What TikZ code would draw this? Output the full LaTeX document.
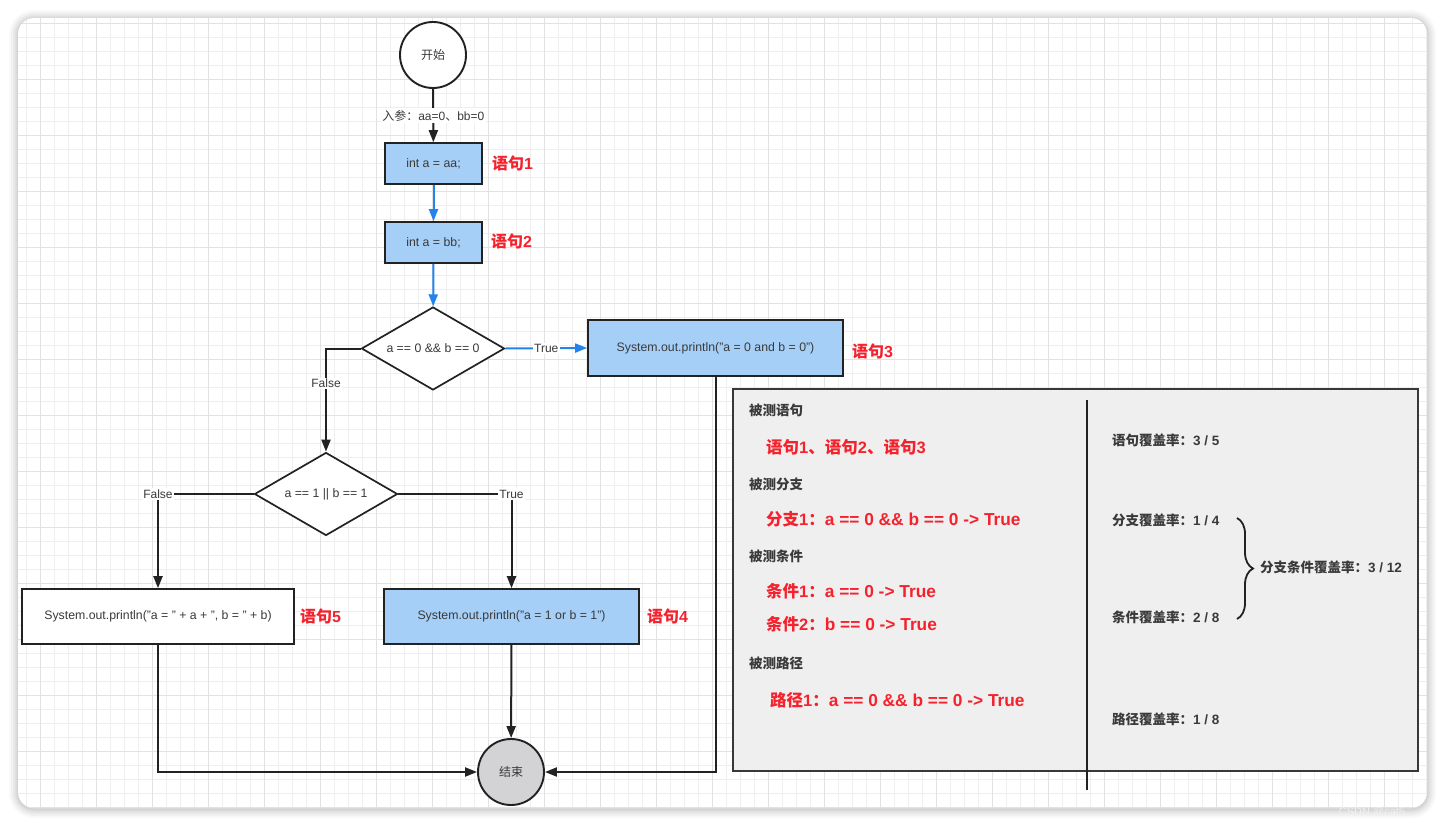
\documentclass[tikz,border=0pt]{standalone}
\usepackage{fontspec}
\setmainfont{Liberation Sans}
\newfontfamily\cjk{Noto Sans CJK SC}
\newcommand{\zh}[1]{{\cjk #1}}
\newcommand{\lat}[1]{{\fontsize{17.3}{19}\selectfont #1}}
\usetikzlibrary{arrows.meta,shapes.geometric,decorations.pathreplacing}
\definecolor{boxblue}{HTML}{A5CFF7}
\definecolor{arrowblue}{HTML}{2383EE}
\definecolor{labred}{HTML}{F5222D}
\definecolor{linek}{HTML}{222222}
\definecolor{txtgray}{HTML}{3A3A3A}
\definecolor{panelbg}{HTML}{EFEFEF}
\definecolor{endgray}{HTML}{D3D2D4}
\definecolor{gridminor}{HTML}{EEEEEE}
\definecolor{gridmajor}{HTML}{E2E2E2}
\begin{document}
\begin{tikzpicture}[x=1pt,y=-1pt,
  startc/.style={circle, draw=linek, line width=1.9pt, fill=white, minimum size=66pt, inner sep=0pt, text=txtgray, font=\cjk\fontsize{12}{14}\selectfont},
  endc/.style={startc, fill=endgray},
  proc/.style={rectangle, draw=linek, line width=1.7pt, fill=boxblue, inner sep=0pt, text=txtgray, font=\fontsize{12.3}{15}\selectfont},
  dec/.style={diamond, draw=linek, line width=1.7pt, fill=white, aspect=1.73, minimum width=143pt, minimum height=83pt, inner sep=0pt, text=txtgray, font=\fontsize{12.3}{15}\selectfont},
  conn/.style={draw=linek, line width=2pt, -{Triangle[length=12pt,width=9pt]}},
  bconn/.style={conn, draw=arrowblue},
  lbl/.style={fill=white, inner sep=1.5pt, text=txtgray, font=\fontsize{12}{14}\selectfont},
  redlbl/.style={anchor=west, inner sep=0pt, text=labred, font=\bfseries\fontsize{16}{18}\selectfont},
  panelhead/.style={anchor=west, inner sep=0pt, text=txtgray, font=\cjk\bfseries\fontsize{13.5}{16}\selectfont},
  panelred/.style={anchor=west, inner sep=0pt, text=labred, font=\bfseries\fontsize{16.5}{19}\selectfont},
  rate/.style={anchor=west, inner sep=0pt, text=txtgray, font=\bfseries\fontsize{13.5}{16}\selectfont}
]
\useasboundingbox (0,0) rectangle (1445,827);

% card shadow
\foreach \w/\o in {18/0.025,14/0.03,10/0.035,6/0.04,3/0.05}{
  \draw[line width=\w pt, black, opacity=\o, rounded corners=16pt] (18,19) rectangle (1427,809);
}
\fill[white, rounded corners=16pt] (18,18) rectangle (1427,808);
\begin{scope}
  \clip[rounded corners=16pt] (18,18) rectangle (1427,808);
  \foreach \i in {0,...,101} \draw[gridminor, line width=0.9pt] ({12+14*\i},18) -- ({12+14*\i},808);
  \foreach \j in {0,...,57} \draw[gridminor, line width=0.9pt] (18,{9+14*\j}) -- (1427,{9+14*\j});
  \foreach \i in {0,...,25} \draw[gridmajor, line width=1pt] ({40+56*\i},18) -- ({40+56*\i},808);
  \foreach \j in {0,...,14} \draw[gridmajor, line width=1pt] (18,{23+56*\j}) -- (1427,{23+56*\j});
\end{scope}

% panel
\node[rectangle, draw=linek!90, line width=1.8pt, fill=panelbg, minimum width=685pt, minimum height=382pt, inner sep=0pt] (panel) at (1075.5,580) {};
\coordinate (divtop) at (1087,400);
\coordinate (divbot) at (1087,790);
\draw[linek, line width=1.8pt] (divtop) -- (divbot);

% flowchart nodes
\node[startc] (start) at (433,55) {开始};
\node[proc, minimum width=97pt, minimum height=41pt] (b1) at (433.5,163.5) {int a = aa;};
\node[proc, minimum width=97pt, minimum height=41pt] (b2) at (433.5,242.5) {int a = bb;};
\node[dec] (d1) at (433,348.5) {a == 0 \&\& b == 0};
\node[proc, minimum width=255pt, minimum height=56pt] (b3) at (715.5,348) {System.out.println("a = 0 and b = 0")};
\node[dec] (d2) at (326,494) {a == 1 || b == 1};
\node[proc, fill=white, minimum width=272pt, minimum height=55pt] (b5) at (158,616.5) {System.out.println("a = " + a + ", b = " + b)};
\node[proc, minimum width=255pt, minimum height=55pt] (b4) at (511.5,616.5) {System.out.println("a = 1 or b = 1")};
\node[endc] (end) at (511,772) {结束};

% red labels
\node[redlbl] (s1) at (492,163) {\zh{语句}1};
\node[redlbl] (s2) at (491,241) {\zh{语句}2};
\node[redlbl] (s3) at (852,351) {\zh{语句}3};
\node[redlbl] (s4) at (647,616) {\zh{语句}4};
\node[redlbl] (s5) at (300,616) {\zh{语句}5};

% connectors
\draw[conn] (start) -- node[lbl] {\zh{入参：}aa=0\zh{、}bb=0} (b1);
\draw[bconn] (b1) -- (b2);
\draw[bconn] (b2) -- (d1);
\draw[bconn] (d1.east) -- node[lbl] {True} (b3.west);
\draw[conn] (d1.west) -| node[lbl, pos=0.67] {False} (d2.north);
\draw[conn] (d2.west) -| node[lbl, pos=0.5] {False} (b5.north);
\draw[conn] (d2.east) -| node[lbl, pos=0.5] {True} (b4.north);
\draw[conn] (b4) -- (end);
\draw[conn] (b5.south) |- (end.west);
\draw[conn] (b3.south) |- (end.east);

% panel texts (left)
\node[panelhead] (h1) at (749,410) {被测语句};
\node[panelred] (r1) at (766,447) {\zh{语句}1\zh{、语句}2\zh{、语句}3};
\node[panelhead] (h2) at (749,484) {被测分支};
\node[panelred] (r2) at (766,519) {\zh{分支}1\zh{：}\lat{a == 0 \&\& b == 0 -> True}};
\node[panelhead] (h3) at (749,556) {被测条件};
\node[panelred] (r3) at (766,591) {\zh{条件}1\zh{：}\lat{a == 0 -> True}};
\node[panelred] (r4) at (766,624) {\zh{条件}2\zh{：}\lat{b == 0 -> True}};
\node[panelhead] (h4) at (749,663) {被测路径};
\node[panelred] (r5) at (770,700) {\zh{路径}1\zh{：}\lat{a == 0 \&\& b == 0 -> True}};

% panel texts (right)
\node[rate] (c1) at (1112,440) {\zh{语句覆盖率：}3 / 5};
\node[rate] (c2) at (1112,520) {\zh{分支覆盖率：}1 / 4};
\node[rate] (c3) at (1112,617) {\zh{条件覆盖率：}2 / 8};
\node[rate] (c4) at (1260,567) {\zh{分支条件覆盖率：}3 / 12};
\node[rate] (c5) at (1112,719) {\zh{路径覆盖率：}1 / 8};
\coordinate (bt) at (1237,518);
\coordinate (bb) at (1237,619);
\draw[linek, line width=1.8pt, decorate, decoration={brace, amplitude=16pt}] (bt) -- (bb);

% watermark
\node[text=gray!12, inner sep=0pt, font=\fontsize{11}{13}\selectfont] (wm) at (1372,812) {CSDN @cat5};
\end{tikzpicture}
\end{document}
